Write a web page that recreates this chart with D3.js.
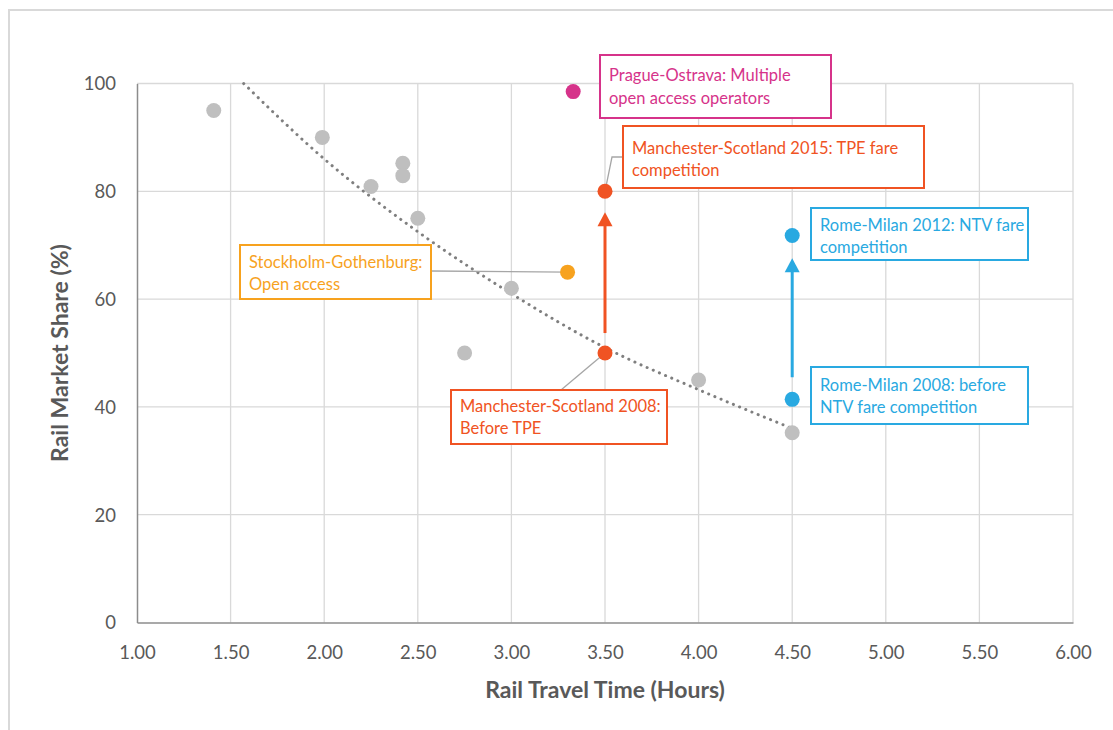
<!DOCTYPE html>
<html>
<head>
<meta charset="utf-8">
<script src="https://cdn.jsdelivr.net/npm/d3@7"></script>
<style>
  html, body { margin: 0; padding: 0; background: #fff; }
  svg { display: block; font-family: Lato, "Open Sans", sans-serif; }
</style>
</head>
<body>
<svg id="chart" width="1113" height="730"></svg>
<script>
// ---------------- data ----------------
const xTicks = [1.0, 1.5, 2.0, 2.5, 3.0, 3.5, 4.0, 4.5, 5.0, 5.5, 6.0];
const yTicks = [0, 20, 40, 60, 80, 100];

// other routes (grey)
const greyTime  = [1.41, 1.99, 2.25, 2.42, 2.42, 2.50, 2.75, 3.00, 4.00, 4.50];
const greyShare = [95.0, 90.0, 80.9, 85.2, 82.9, 75.0, 50.0, 62.0, 45.0, 35.2];

// highlighted routes
const hiNames = ["Prague-Ostrava", "Manchester-Scotland 2015", "Manchester-Scotland 2008",
                 "Stockholm-Gothenburg", "Rome-Milan 2012", "Rome-Milan 2008"];
const hiTime  = [3.33, 3.50, 3.50, 3.30, 4.50, 4.50];
const hiShare = [98.5, 80.0, 50.0, 65.0, 71.8, 41.4];
const hiLabel = [
  ["Prague-Ostrava: Multiple", "open access operators"],
  ["Manchester-Scotland 2015: TPE fare", "competition"],
  ["Manchester-Scotland 2008:", "Before TPE"],
  ["Stockholm-Gothenburg:", "Open access"],
  ["Rome-Milan 2012: NTV fare", "competition"],
  ["Rome-Milan 2008: before", "NTV fare competition"]
];

// trend line
const trendTime  = [1.57, 2.00, 2.50, 3.00, 3.50, 4.00, 4.50];
const trendShare = [100.0, 86.0, 72.5, 61.0, 51.0, 43.2, 36.0];

// arrows (from, to) in data units
const arrowTime = [3.50, 4.50];
const arrowFrom = [53.7, 45.5];
const arrowTo   = [76.1, 67.6];

// ---------------- styles / layout ----------------
const hiColors = ["#D6338A", "#F05323", "#F05323", "#F7A21E", "#29A9E1", "#29A9E1"];
const arrowColors = ["#F05323", "#29A9E1"];
// label boxes in pixels: [x, y, w, h]
const boxes = [
  [600, 55, 231, 63],
  [623, 126, 301, 62],
  [451, 390, 216, 54],
  [240, 245, 191, 54],
  [811, 208, 217, 52],
  [811, 367, 217, 57]
];
const textBase = [[81, 104], [154, 176], [412, 434], [268, 290], [231, 253], [391, 413]];

const svg = d3.select("#chart");

// outer frame
svg.append("rect").attr("x", 9).attr("y", 10).attr("width", 1120).attr("height", 740)
  .attr("fill", "none").attr("stroke", "#D9D9D9").attr("stroke-width", 2);

const x = d3.scaleLinear().domain([1, 6]).range([137, 1073]);
const y = d3.scaleLinear().domain([0, 100]).range([622.5, 83.5]);

// gridlines
const grid = svg.append("g");
grid.selectAll("line.v").data(xTicks.slice(1)).join("line")
  .attr("x1", d => x(d)).attr("x2", d => x(d))
  .attr("y1", y(0)).attr("y2", y(100))
  .attr("stroke", "#D9D9D9").attr("stroke-width", 1.3);
grid.selectAll("line.h").data(yTicks.slice(1)).join("line")
  .attr("x1", x(1)).attr("x2", x(6))
  .attr("y1", d => y(d)).attr("y2", d => y(d))
  .attr("stroke", "#D9D9D9").attr("stroke-width", 1.3);

// axes
const xAxis = d3.axisBottom(x).tickValues(xTicks).tickFormat(d3.format(".2f")).tickSize(0).tickPadding(23);
const yAxis = d3.axisLeft(y).tickValues(yTicks).tickFormat(d3.format("d")).tickSize(0).tickPadding(21);
const gx = svg.append("g").attr("transform", `translate(0,${y(0)})`).call(xAxis);
const gy = svg.append("g").attr("transform", `translate(${x(1)},0)`).call(yAxis);
[gx, gy].forEach(g => {
  g.select(".domain").attr("stroke", "#8C8C8C").attr("stroke-width", 1.5);
  g.selectAll("text").attr("fill", "#595959").attr("font-size", 18.5).attr("font-family", "Lato, sans-serif");
});
gx.selectAll("text").attr("dy", "0.71em");
gy.selectAll("text").attr("dy", "0.35em");

// axis titles
svg.append("text").attr("x", (x(1) + x(6)) / 2).attr("y", 698)
  .attr("text-anchor", "middle").attr("font-weight", "bold").attr("font-size", 23)
  .attr("fill", "#595959").text("Rail Travel Time (Hours)");
svg.append("text").attr("transform", `translate(68,${(y(0) + y(100)) / 2}) rotate(-90)`)
  .attr("text-anchor", "middle").attr("font-weight", "bold").attr("font-size", 23)
  .attr("fill", "#595959").text("Rail Market Share (%)");

// trendline
const trendData = trendTime.map((t, i) => [t, trendShare[i]]);
svg.append("path").datum(trendData)
  .attr("d", d3.line().x(d => x(d[0])).y(d => y(d[1])).curve(d3.curveMonotoneX))
  .attr("fill", "none").attr("stroke", "#7F7F7F").attr("stroke-width", 3)
  .attr("stroke-linecap", "round").attr("stroke-dasharray", "0.1 6.6");

// leader lines (in pixels, anchored on the point)
const leaders = [
  null,
  [[x(hiTime[1]), y(hiShare[1])], [612, 157], [623, 157]],
  [[x(hiTime[2]), y(hiShare[2])], [561, 390]],
  [[x(hiTime[3]), y(hiShare[3])], [431, 271]],
  null, null
];
leaders.forEach(l => {
  if (!l) return;
  svg.append("path").attr("d", d3.line()(l)).attr("fill", "none")
    .attr("stroke", "#A6A6A6").attr("stroke-width", 1.3);
});

// grey points
svg.append("g").selectAll("circle").data(greyTime.map((t, i) => [t, greyShare[i]])).join("circle")
  .attr("cx", d => x(d[0])).attr("cy", d => y(d[1])).attr("r", 7.5).attr("fill", "#BFBFBF");

// arrows
arrowTime.forEach((t, i) => {
  const xs = x(t), y0 = y(arrowFrom[i]), y1 = y(arrowTo[i]);
  svg.append("line").attr("x1", xs).attr("x2", xs).attr("y1", y0).attr("y2", y1 + 12)
    .attr("stroke", arrowColors[i]).attr("stroke-width", 3);
  svg.append("path")
    .attr("d", `M${xs},${y1} L${xs - 7.5},${y1 + 14} L${xs + 7.5},${y1 + 14} Z`)
    .attr("fill", arrowColors[i]);
});

// highlighted points
svg.append("g").selectAll("circle").data(hiTime.map((t, i) => [t, hiShare[i], hiColors[i]])).join("circle")
  .attr("cx", d => x(d[0])).attr("cy", d => y(d[1])).attr("r", 7.5).attr("fill", d => d[2]);

// label boxes
hiLabel.forEach((lines, i) => {
  const [bx, by, bw, bh] = boxes[i];
  svg.append("rect").attr("x", bx).attr("y", by).attr("width", bw).attr("height", bh)
    .attr("fill", "#fff").attr("stroke", hiColors[i]).attr("stroke-width", 2);
  lines.forEach((ln, j) => {
    svg.append("text").attr("x", bx + 9).attr("y", textBase[i][j])
      .attr("font-size", 16.5).attr("fill", hiColors[i]).text(ln);
  });
});
</script>
</body>
</html>
